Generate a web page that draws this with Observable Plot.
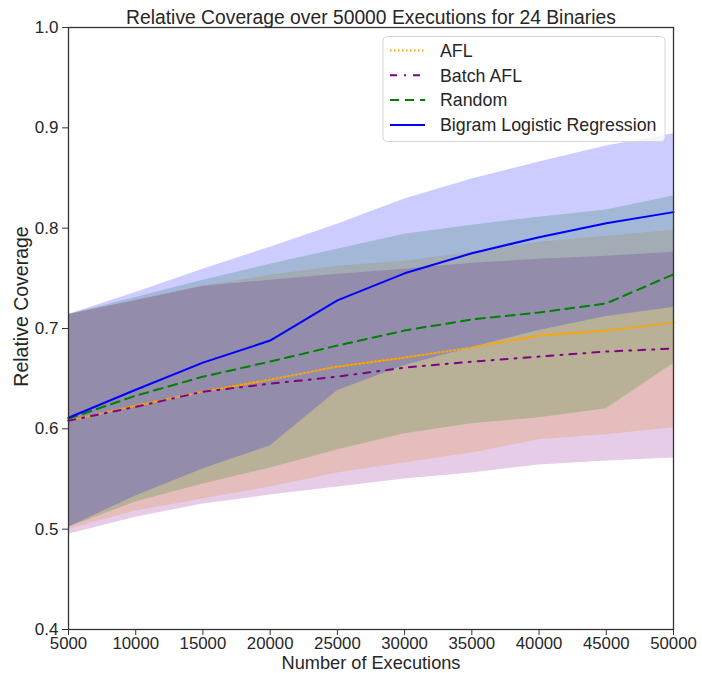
<!DOCTYPE html>
<html><head><meta charset="utf-8">
<script src="https://cdn.jsdelivr.net/npm/d3@7"></script>
<script src="https://cdn.jsdelivr.net/npm/@observablehq/plot@0.6"></script>
<style>body{margin:0;background:#fff} svg{display:block}</style>
</head><body><div id="chart"></div>
<script>
const executions = [5000, 10000, 15000, 20000, 25000, 30000, 35000, 40000, 45000, 50000];
const seriesNames = ["AFL", "Batch AFL", "Random", "Bigram Logistic Regression"];
const seriesColors = ["orange", "purple", "green", "blue"];

const aflMean = [0.608, 0.623, 0.637, 0.649, 0.662, 0.671, 0.681, 0.693, 0.698, 0.706];
const aflLow  = [0.500, 0.518, 0.530, 0.542, 0.556, 0.566, 0.576, 0.589, 0.594, 0.601];
const aflHigh = [0.714, 0.728, 0.742, 0.753, 0.762, 0.767, 0.776, 0.786, 0.792, 0.798];

const batchMean = [0.608, 0.622, 0.637, 0.645, 0.652, 0.661, 0.667, 0.672, 0.677, 0.680];
const batchLow  = [0.495, 0.512, 0.525, 0.534, 0.542, 0.550, 0.556, 0.564, 0.568, 0.571];
const batchHigh = [0.714, 0.728, 0.742, 0.748, 0.754, 0.759, 0.765, 0.769, 0.772, 0.776];

const randomMean = [0.610, 0.633, 0.652, 0.667, 0.683, 0.698, 0.709, 0.716, 0.725, 0.754];
const randomLow  = [0.502, 0.527, 0.545, 0.561, 0.579, 0.595, 0.605, 0.611, 0.620, 0.665];
const randomHigh = [0.714, 0.731, 0.748, 0.764, 0.779, 0.794, 0.803, 0.811, 0.818, 0.832];

const bigramMean = [0.611, 0.639, 0.666, 0.688, 0.728, 0.755, 0.775, 0.791, 0.805, 0.816];
const bigramLow  = [0.502, 0.533, 0.560, 0.583, 0.638, 0.663, 0.681, 0.698, 0.712, 0.721];
const bigramHigh = [0.714, 0.736, 0.759, 0.781, 0.804, 0.829, 0.849, 0.866, 0.882, 0.894];

const yTicks = [0.4, 0.5, 0.6, 0.7, 0.8, 0.9, 1.0];
const titleText = "Relative Coverage over 50000 Executions for 24 Binaries";
const xLabel = "Number of Executions";
const yLabel = "Relative Coverage";

const means = [aflMean, batchMean, randomMean, bigramMean];
const lows = [aflLow, batchLow, randomLow, bigramLow];
const highs = [aflHigh, batchHigh, randomHigh, bigramHigh];
const dashes = ["1.5,2.5", "7,7,2,7", "9,6", null];

const table = [];
seriesNames.forEach((s, k) => {
  executions.forEach((x, i) => {
    table.push({series: s, x, mean: means[k][i], lo: lows[k][i], hi: highs[k][i]});
  });
});

const FONT = "'Liberation Sans', Arial, Helvetica, sans-serif";
const TXT = "#262626";

const plot = Plot.plot({
  width: 702, height: 673,
  marginLeft: 68, marginRight: 29, marginTop: 27, marginBottom: 44,
  style: {fontFamily: FONT, color: TXT, background: "#fff", fontSize: "17px"},
  x: {domain: [5000, 50000]},
  y: {domain: [0.4, 1.0]},
  color: {domain: seriesNames, range: seriesColors},
  marks: [
    ...seriesNames.map(s => Plot.areaY(table.filter(d => d.series === s), {x: "x", y1: "lo", y2: "hi", fill: "series", fillOpacity: 0.2})),
    ...seriesNames.map((s, k) => Plot.line(table.filter(d => d.series === s), {x: "x", y: "mean", stroke: "series", strokeWidth: 2, strokeDasharray: dashes[k]})),
    Plot.frame({stroke: "#333", strokeWidth: 1.3}),
    Plot.axisX({ticks: executions, tickFormat: d => String(d), tickSize: 6, tickPadding: 2, fontSize: 16.8, label: null, stroke: "#333"}),
    Plot.axisY({ticks: yTicks, tickFormat: d => d.toFixed(1), tickSize: 6, tickPadding: 4, fontSize: 17, label: null, stroke: "#333"}),
    Plot.text([titleText], {frameAnchor: "top", textAnchor: "middle", lineAnchor: "middle", dy: -10, fontSize: 19.3, fill: TXT}),
    Plot.text([xLabel], {frameAnchor: "bottom", textAnchor: "middle", lineAnchor: "middle", dy: 34, fontSize: 18.2, fill: TXT}),
    Plot.text([yLabel], {frameAnchor: "left", textAnchor: "middle", lineAnchor: "middle", rotate: -90, dx: -47, dy: -22, fontSize: 19.5, fill: TXT})
  ]
});

// legend
const svg = d3.select(plot);
const lg = svg.append("g").attr("font-family", FONT).attr("font-size", 17.8).attr("fill", TXT).attr("text-anchor", "start");
lg.append("rect").attr("x", 383).attr("y", 36.5).attr("width", 282).attr("height", 105)
  .attr("rx", 4).attr("fill", "white").attr("fill-opacity", 0.8).attr("stroke", "#d6d6d6");
seriesNames.forEach((s, k) => {
  const cy = 50.5 + k * 24.8;
  lg.append("line").attr("x1", 390).attr("x2", 425).attr("y1", cy).attr("y2", cy)
    .attr("stroke", seriesColors[k]).attr("stroke-width", 2)
    .attr("stroke-dasharray", dashes[k]);
  lg.append("text").attr("x", 440).attr("y", cy).attr("dy", "0.35em").attr("text-anchor", "start").text(s);
});

document.getElementById("chart").appendChild(plot);
</script>
</body></html>
